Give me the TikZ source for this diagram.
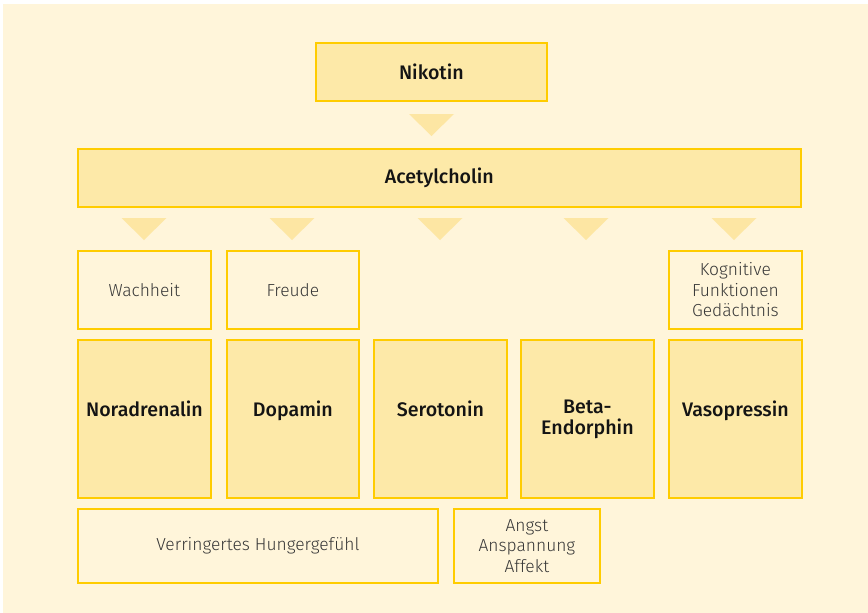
\documentclass[tikz,border=0pt]{standalone}
\usepackage{fontspec}
\setmainfont{Fira Sans Light}[BoldFont={Fira Sans Medium}]
\usepackage{tikz}
\usetikzlibrary{positioning}
\definecolor{cream}{HTML}{FFF5DA}
\definecolor{boxfill}{HTML}{FDE9A8}
\definecolor{boxline}{HTML}{FFCC00}
\definecolor{tri}{HTML}{FDE6A3}
\definecolor{txt}{HTML}{141414}

\begin{document}
\begin{tikzpicture}[x=1pt,y=1pt,yscale=-1,xscale=1]
  \tikzstyle{substance} = [draw=boxline,fill=boxfill,line width=1.8pt,anchor=north west,inner sep=0pt,align=center,text=txt,font=\fontsize{19.6}{21}\selectfont\bfseries]
  \tikzstyle{effect} = [draw=boxline,fill=cream,line width=1.8pt,anchor=north west,inner sep=0pt,align=center,text=txt!85,font=\fontsize{17.4}{20.5}\selectfont]
  \tikzstyle{pointer} = [fill=tri,draw=none]
  %Background
  \useasboundingbox (0,0) rectangle (868,613);
  \fill [white] (0,0) rectangle (868,613);
  \fill [cream] (3,4) rectangle (868,613);
  %Top boxes
  \node [substance,minimum width=231,minimum height=58] (nikotin) at (315,42) {Nikotin};
  \node [substance,minimum width=723,minimum height=58] (acetyl) at (77,148) {Acetylcholin};
  %Draw triangles
  \fill [pointer] (409,114) -- (454,114) -- (431.5,136) -- cycle;
  \foreach \cx in {144,292,440,586,734}
    \fill [pointer] (\cx-22.5,218) -- (\cx+22.5,218) -- (\cx,240) -- cycle;
  %Effects above
  \node [effect,minimum width=133,minimum height=78] (wach) at (77,250) {Wachheit};
  \node [effect,minimum width=132,minimum height=78] (freude) at (226,250) {Freude};
  \node [effect,minimum width=133,minimum height=78] (kogn) at (668,250) {Kognitive\\Funktionen\\Gedächtnis};
  %Transmitters (one-liners sit on the upper line)
  \node [substance,minimum width=133,minimum height=158] (nora) at (77,339) {Noradrenalin\\\mbox{}};
  \node [substance,minimum width=132,minimum height=158] (dopa) at (226,339) {Dopamin\\\mbox{}};
  \node [substance,minimum width=133,minimum height=158] (sero) at (373,339) {Serotonin\\\mbox{}};
  \node [substance,minimum width=133,minimum height=158] (beta) at (520,339) {Beta-\\Endorphin};
  \node [substance,minimum width=133,minimum height=158] (vaso) at (668,339) {Vasopressin\\\mbox{}};
  %Effects below
  \node [effect,minimum width=360,minimum height=74] (hunger) at (77,508) {Verringertes Hungergefühl};
  \node [effect,minimum width=146,minimum height=74] (angst) at (453,508) {Angst\\Anspannung\\Affekt};
\end{tikzpicture}
\end{document}
